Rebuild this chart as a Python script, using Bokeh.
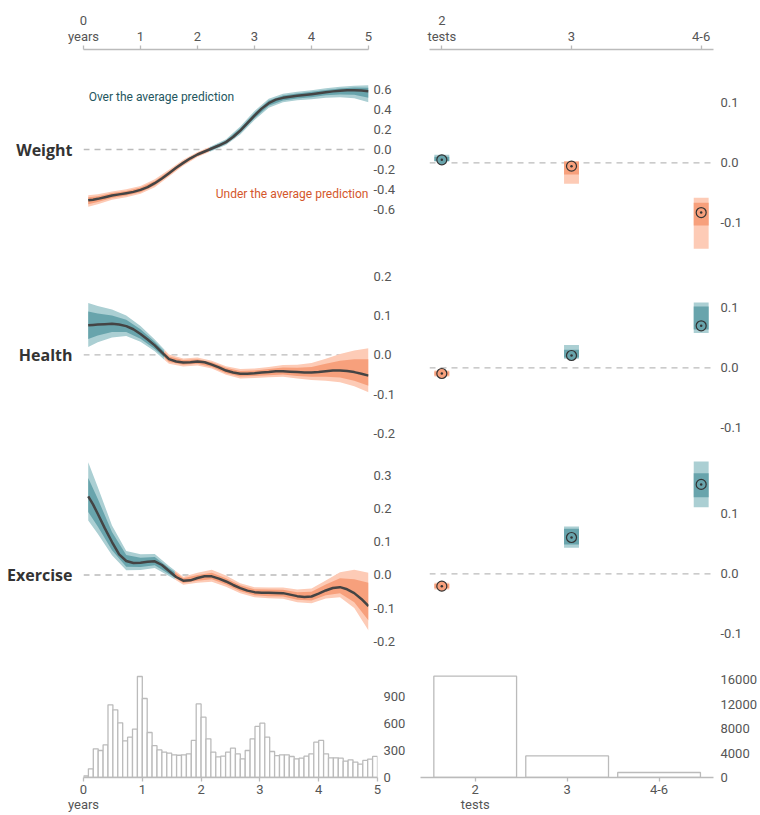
import numpy as np
from bokeh.plotting import figure
from bokeh.models import Range1d, LinearAxis, FixedTicker, Span, Label, PrintfTickFormatter
from bokeh.layouts import column, row
from bokeh.embed import file_html
from bokeh.resources import INLINE

# ---------------- data ----------------
# band samples (years)
years = [0.083, 0.25, 0.5, 0.75, 1.0, 1.25, 1.5, 1.75, 2.0, 2.25, 2.5,
         2.75, 3.0, 3.25, 3.5, 3.75, 4.0, 4.25, 4.5, 4.75, 5.0]

weight_mean = [-0.51, -0.495, -0.46, -0.438, -0.405, -0.338, -0.237, -0.134, -0.05, 0.01, 0.074,
               0.19, 0.34, 0.465, 0.518, 0.538, 0.555, 0.575, 0.59, 0.595, 0.585]
weight_outer_up = [0.05, 0.045, 0.04, 0.04, 0.04, 0.04, 0.035, 0.03, 0.025, 0.025, 0.03,
                   0.04, 0.045, 0.045, 0.04, 0.04, 0.04, 0.04, 0.04, 0.045, 0.06]
weight_outer_dn = [0.065, 0.055, 0.045, 0.04, 0.04, 0.04, 0.035, 0.03, 0.025, 0.025, 0.03,
                   0.04, 0.045, 0.045, 0.045, 0.045, 0.05, 0.055, 0.065, 0.08, 0.11]
weight_inner_up = [0.03, 0.027, 0.024, 0.023, 0.023, 0.023, 0.02, 0.017, 0.014, 0.014, 0.017,
                   0.023, 0.026, 0.026, 0.023, 0.023, 0.023, 0.023, 0.023, 0.026, 0.035]
weight_inner_dn = [0.038, 0.032, 0.026, 0.023, 0.023, 0.023, 0.02, 0.017, 0.014, 0.014, 0.017,
                   0.023, 0.026, 0.026, 0.026, 0.026, 0.03, 0.032, 0.038, 0.046, 0.065]

health_mean = [0.075, 0.077, 0.079, 0.073, 0.053, 0.024, -0.011, -0.0195, -0.017, -0.025, -0.04,
               -0.048, -0.047, -0.044, -0.042, -0.044, -0.045, -0.042, -0.04, -0.044, -0.053]
health_outer_up = [0.057, 0.047, 0.036, 0.027, 0.02, 0.015, 0.012, 0.01, 0.01, 0.01, 0.011,
                   0.012, 0.012, 0.013, 0.016, 0.019, 0.024, 0.032, 0.042, 0.055, 0.07]
health_outer_dn = [0.055, 0.045, 0.035, 0.025, 0.02, 0.015, 0.012, 0.01, 0.01, 0.01, 0.011,
                   0.012, 0.012, 0.013, 0.014, 0.016, 0.019, 0.024, 0.03, 0.036, 0.042]
health_inner_up = [0.035, 0.028, 0.021, 0.016, 0.012, 0.009, 0.007, 0.006, 0.006, 0.006, 0.007,
                   0.007, 0.007, 0.008, 0.01, 0.011, 0.014, 0.019, 0.025, 0.033, 0.042]
health_inner_dn = [0.035, 0.028, 0.021, 0.015, 0.012, 0.009, 0.007, 0.006, 0.006, 0.006, 0.007,
                   0.007, 0.007, 0.008, 0.008, 0.01, 0.011, 0.014, 0.018, 0.022, 0.026]

exercise_mean = [0.236, 0.184, 0.099, 0.042, 0.037, 0.041, 0.012, -0.017, -0.009, -0.004, -0.0195,
                 -0.0395, -0.0515, -0.0535, -0.0545, -0.0635, -0.0645, -0.0465, -0.0365, -0.0545, -0.0935]
exercise_outer_up = [0.103, 0.08, 0.05, 0.03, 0.025, 0.022, 0.015, 0.012, 0.016, 0.02, 0.018,
                     0.015, 0.015, 0.016, 0.017, 0.02, 0.024, 0.03, 0.045, 0.07, 0.1]
exercise_outer_dn = [0.072, 0.06, 0.04, 0.028, 0.022, 0.02, 0.015, 0.012, 0.014, 0.016, 0.016,
                     0.015, 0.015, 0.016, 0.017, 0.018, 0.02, 0.024, 0.03, 0.045, 0.073]
exercise_inner_up = [0.055, 0.045, 0.03, 0.018, 0.015, 0.013, 0.009, 0.007, 0.009, 0.011, 0.01,
                     0.009, 0.009, 0.01, 0.01, 0.012, 0.014, 0.018, 0.027, 0.042, 0.07]
exercise_inner_dn = [0.047, 0.038, 0.025, 0.017, 0.013, 0.012, 0.009, 0.007, 0.008, 0.009, 0.009,
                     0.009, 0.009, 0.01, 0.01, 0.011, 0.012, 0.014, 0.018, 0.027, 0.043]

# finer samples of the mean curves (years)
line_years = [0.083, 0.167, 0.25, 0.375, 0.5, 0.625, 0.75, 0.875, 1.0, 1.125, 1.25, 1.375, 1.5,
              1.625, 1.75, 1.875, 2.0, 2.125, 2.25, 2.375, 2.5, 2.625, 2.75, 2.875, 3.0, 3.125,
              3.25, 3.375, 3.5, 3.625, 3.75, 3.875, 4.0, 4.125, 4.25, 4.375, 4.5, 4.625, 4.75,
              4.875, 5.0]
weight_line = [-0.51, -0.503, -0.495, -0.478, -0.462, -0.45, -0.438, -0.425, -0.405, -0.377,
               -0.338, -0.29, -0.237, -0.184, -0.134, -0.088, -0.05, -0.02, 0.01, 0.04, 0.074,
               0.125, 0.19, 0.265, 0.34, 0.41, 0.465, 0.5, 0.518, 0.53, 0.538, 0.546, 0.555,
               0.565, 0.575, 0.583, 0.59, 0.594, 0.595, 0.592, 0.585]
health_line = [0.075, 0.076, 0.077, 0.078, 0.079, 0.077, 0.073, 0.065, 0.053, 0.039, 0.024,
               0.006, -0.011, -0.017, -0.0195, -0.019, -0.017, -0.019, -0.025, -0.032, -0.04,
               -0.045, -0.048, -0.048, -0.047, -0.045, -0.044, -0.042, -0.042, -0.043, -0.044,
               -0.045, -0.045, -0.044, -0.042, -0.04, -0.04, -0.041, -0.044, -0.048, -0.053]
exercise_line = [0.236, 0.212, 0.184, 0.14, 0.099, 0.062, 0.042, 0.036, 0.037, 0.04, 0.041,
                 0.03, 0.012, -0.006, -0.017, -0.016, -0.009, -0.004, -0.004, -0.011, -0.0195,
                 -0.03, -0.0395, -0.047, -0.0515, -0.053, -0.0535, -0.054, -0.0545, -0.059,
                 -0.0635, -0.066, -0.0645, -0.056, -0.0465, -0.039, -0.0365, -0.043, -0.0545,
                 -0.072, -0.0935]

tests = ["2", "3", "4-6"]
weight_pt = [0.005, -0.0056, -0.083]
weight_in_lo = [0.003, -0.0195, -0.1045]
weight_in_hi = [0.010, 0.0022, -0.0667]
weight_out_lo = [0.002, -0.035, -0.1433]
weight_out_hi = [0.0133, 0.0022, -0.0583]

health_pt = [-0.0095, 0.0205, 0.07]
health_in_lo = [-0.013, 0.017, 0.064]
health_in_hi = [-0.006, 0.030, 0.102]
health_out_lo = [-0.0145, 0.015, 0.058]
health_out_hi = [-0.0045, 0.038, 0.109]

exercise_pt = [-0.0206, 0.0605, 0.149]
exercise_in_lo = [-0.024, 0.0488, 0.1277]
exercise_in_hi = [-0.017, 0.075, 0.1677]
exercise_out_lo = [-0.026, 0.0433, 0.111]
exercise_out_hi = [-0.015, 0.079, 0.187]

# histogram of years (monthly bins, 0..5 years)
hist_months = 60
hist_counts = [18, 97, 320, 301, 364, 810, 755, 610, 409, 450, 540, 1126,
               881, 502, 355, 308, 282, 271, 253, 248, 253, 264, 413, 821,
               673, 431, 282, 230, 238, 282, 327, 264, 208, 301, 431, 569,
               606, 450, 290, 245, 253, 253, 234, 208, 216, 238, 264, 394,
               413, 264, 219, 219, 216, 182, 197, 171, 150, 190, 205, 235]
test_counts = [16540, 3530, 816]

year_ticks = [0, 1, 2, 3, 4, 5]
weight_ticks = [-0.6, -0.4, -0.2, 0.0, 0.2, 0.4, 0.6]
health_ticks = [-0.2, -0.1, 0.0, 0.1, 0.2]
exercise_ticks = [-0.2, -0.1, 0.0, 0.1, 0.2, 0.3]
right_ticks = [-0.1, 0.0, 0.1]
hist_ticks = [0, 300, 600, 900]
test_ticks = [0, 4000, 8000, 12000, 16000]

# ---------------- style ----------------
TEAL_OUT = "#abcfd3"
TEAL_IN = "#68a4ac"
SAL_OUT = "#fdcbb6"
SAL_IN = "#f7a07c"
LINE = "#444444"
AXIS = "#bbbbbb"
LABEL = "#555555"
FONT = "Roboto"
LEFT_W, RIGHT_W = 408, 352


def new_fig(w, h, xr, yr, bl, br, bt=0, bb=0):
    p = figure(width=w, height=h, x_range=xr, y_range=yr, title=None,
               min_border_left=bl, min_border_right=br, min_border_top=bt, min_border_bottom=bb,
               x_axis_location=None, y_axis_location=None, toolbar_location=None,
               output_backend="svg", outline_line_color=None,
               background_fill_color="white", border_fill_color="white")
    p.xgrid.visible = False
    p.ygrid.visible = False
    return p


def value_axis(p, ticks, fmt, standoff):
    ax = LinearAxis(ticker=FixedTicker(ticks=ticks), formatter=PrintfTickFormatter(format=fmt),
                    axis_line_color=None, major_tick_line_color=None, minor_tick_line_color=None,
                    major_tick_out=0, major_tick_in=0, minor_tick_out=0, minor_tick_in=0,
                    axis_label_standoff=0,
                    major_label_standoff=standoff, major_label_text_font=FONT,
                    major_label_text_font_size="13px", major_label_text_color=LABEL)
    p.add_layout(ax, "right")


def name_axis(p, name):
    ax = LinearAxis(ticker=FixedTicker(ticks=[0]), major_label_overrides={0: name},
                    axis_line_color=None, major_tick_line_color=None, minor_tick_line_color=None,
                    major_tick_out=0, major_tick_in=0, minor_tick_out=0, minor_tick_in=0,
                    axis_label_standoff=0,
                    major_label_standoff=11, major_label_text_font="Open Sans",
                    major_label_text_font_style="bold", major_label_text_font_size="16px",
                    major_label_text_color="#333333")
    p.add_layout(ax, "left")


def cat_axis(p, ticks, labels, loc, standoff=2):
    ax = LinearAxis(ticker=FixedTicker(ticks=ticks),
                    major_label_overrides={t: l for t, l in zip(ticks, labels)},
                    axis_line_color=AXIS, axis_line_width=1.3,
                    major_tick_line_color=AXIS, major_tick_line_width=1.3,
                    major_tick_out=4, major_tick_in=0, minor_tick_line_color=None,
                    minor_tick_out=0, minor_tick_in=0, axis_label_standoff=0,
                    major_label_standoff=standoff, major_label_text_font=FONT,
                    major_label_text_font_size="13px", major_label_text_color=LABEL,
                    major_label_text_line_height=1.05)
    p.add_layout(ax, loc)


def zero_line(p):
    p.add_layout(Span(location=0, dimension="width", line_color=AXIS, line_width=1.3,
                      line_dash="6 5", level="underlay"))


def split_runs(x, m, bands):
    x = np.asarray(x, float)
    m = np.asarray(m, float)
    bands = [np.asarray(b, float) for b in bands]
    runs = []
    cx, cb = [x[0]], [[b[0]] for b in bands]
    sign = m[0] >= 0
    for i in range(1, len(x)):
        s = m[i] >= 0
        if s != sign:
            f = m[i - 1] / (m[i - 1] - m[i])
            xc = x[i - 1] + f * (x[i] - x[i - 1])
            bc = [b[i - 1] + f * (b[i] - b[i - 1]) for b in bands]
            cx.append(xc)
            for j in range(len(bands)):
                cb[j].append(bc[j])
            runs.append((sign, cx, cb))
            cx = [xc, x[i]]
            cb = [[bc[j], bands[j][i]] for j in range(len(bands))]
            sign = s
        else:
            cx.append(x[i])
            for j in range(len(bands)):
                cb[j].append(bands[j][i])
    runs.append((sign, cx, cb))
    return runs


def curve_panel(h, yr, mean, oup, odn, iup, idn, line, ticks, name, top=False):
    bt = 49 if top else 0
    p = new_fig(LEFT_W, h, Range1d(0, 5), Range1d(*yr), 83, 40, bt=bt)
    zero_line(p)
    m = np.asarray(mean)
    bands = [m - np.asarray(odn), m + np.asarray(oup), m - np.asarray(idn), m + np.asarray(iup)]
    for pos, xs, (olo, ohi, ilo, ihi) in split_runs(years, mean, bands):
        p.varea(x=xs, y1=olo, y2=ohi, fill_color=TEAL_OUT if pos else SAL_OUT)
        p.varea(x=xs, y1=ilo, y2=ihi, fill_color=TEAL_IN if pos else SAL_IN)
    p.line(line_years, line, line_color=LINE, line_width=2.5, line_join="round")
    value_axis(p, ticks, "%.1f", 5)
    name_axis(p, name)
    if top:
        cat_axis(p, year_ticks, ["0\nyears"] + [str(t) for t in year_ticks[1:]], "above")
    return p


def point_panel(h, yr, pt, ilo, ihi, olo, ohi, top=False):
    bt = 49 if top else 0
    p = new_fig(RIGHT_W, h, Range1d(-0.095, 2.095), Range1d(*yr), 21, 47, bt=bt)
    zero_line(p)
    xs = list(range(len(tests)))
    pos = [v > 0 for v in pt]
    p.vbar(x=xs, width=0.115, bottom=olo, top=ohi, line_color=None,
           fill_color=[TEAL_OUT if s else SAL_OUT for s in pos])
    p.vbar(x=xs, width=0.115, bottom=ilo, top=ihi, line_color=None,
           fill_color=[TEAL_IN if s else SAL_IN for s in pos])
    p.scatter(x=xs, y=pt, marker="circle_dot", size=10, line_color="#333333", line_width=1.2,
              fill_color=[TEAL_IN if s else SAL_IN for s in pos])
    value_axis(p, right_ticks, "%.1f", 7)
    if top:
        cat_axis(p, xs, ["2\ntests", "3", "4-6"], "above")
    return p


# ---------------- rows ----------------
w_left = curve_panel(250, (-1.013, 1.003), weight_mean, weight_outer_up, weight_outer_dn,
                     weight_inner_up, weight_inner_dn, weight_line, weight_ticks, "Weight", top=True)
w_left.add_layout(Label(x=0.09, y=0.53, text="Over the average prediction", text_align="left",
                        text_baseline="middle", text_font=FONT, text_font_size="12px",
                        text_color="#24565e"))
w_left.add_layout(Label(x=5, y=-0.45, text="Under the average prediction", text_align="right",
                        text_baseline="middle", text_font=FONT, text_font_size="12px",
                        text_color="#d4572b"))
w_right = point_panel(250, (-0.1462, 0.1888), weight_pt, weight_in_lo, weight_in_hi,
                      weight_out_lo, weight_out_hi, top=True)

h_left = curve_panel(205, (-0.2562, 0.2654), health_mean, health_outer_up, health_outer_dn,
                     health_inner_up, health_inner_dn, health_line, health_ticks, "Health")
h_right = point_panel(205, (-0.1462, 0.1955), health_pt, health_in_lo, health_in_hi,
                      health_out_lo, health_out_hi)

e_left = curve_panel(203, (-0.2508, 0.3589), exercise_mean, exercise_outer_up, exercise_outer_dn,
                     exercise_inner_up, exercise_inner_dn, exercise_line, exercise_ticks, "Exercise")
e_right = point_panel(203, (-0.1412, 0.1972), exercise_pt, exercise_in_lo, exercise_in_hi,
                      exercise_out_lo, exercise_out_hi)

# histogram of years
hist = new_fig(LEFT_W, 157, Range1d(0, 5), Range1d(0, 1327), 83, 31, bb=38)
edges = np.arange(hist_months + 1) / 12.0
hist.quad(left=edges[:-1], right=edges[1:], bottom=0, top=hist_counts,
          fill_color="white", line_color=AXIS, line_width=1.3)
value_axis(hist, hist_ticks, "%d", 6)
cat_axis(hist, year_ticks, ["0\nyears"] + [str(t) for t in year_ticks[1:]], "below", standoff=0)

# bar chart of tests
tx = list(range(len(tests)))
bars = new_fig(RIGHT_W, 157, Range1d(-0.595, 2.592), Range1d(0, 19429), 12, 47, bb=38)
bars.vbar(x=tx, width=0.9, bottom=0, top=test_counts, fill_color="white",
          line_color=AXIS, line_width=1.3)
value_axis(bars, test_ticks, "%d", 7)
cat_axis(bars, tx, ["2\ntests", "3", "4-6"], "below", standoff=0)

layout = column(row(w_left, w_right), row(h_left, h_right), row(e_left, e_right),
                row(hist, bars))

open("out.html", "w").write(file_html(layout, INLINE))
